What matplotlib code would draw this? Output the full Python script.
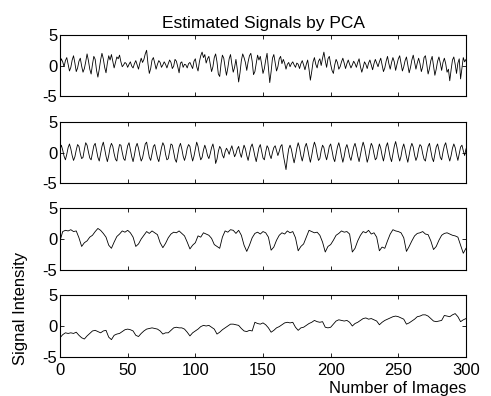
import matplotlib
matplotlib.use("Agg")
import matplotlib.pyplot as plt
import numpy as np

plt.rcParams["font.family"] = ["Liberation Sans", "DejaVu Sans"]
plt.rcParams["axes.unicode_minus"] = False

# image index for the fast signals (every image) and the slow ones (every 2nd image)
images_fast = list(range(0, 301))
images_slow = list(range(0, 301, 2))

signal_1 = [
    0.3, 1.1, 0.6, -0.2, 0.8, 1.3, 0.2, -0.9, -0.3, 0.9, 1.6, 0.4, -1.0, -0.4, 0.7, 1.2, -0.1, -1.1, -0.5, 0.6,
    1.9, 0.8, -0.6, -1.4, 0.2, 1.5, 1.0, -0.8, -1.9, -0.6, 0.9, 2.0, 1.1, -0.3, -1.2, 0.4, 1.6, 0.9, 1.8, 0.7,
    -0.4, 0.5, 1.4, 1.1, 1.7, 0.6, -0.2, 0.1, 0.5, 0.3, -0.3, 0.2, 0.6, -0.1, -0.4, 0.3, 0.8, 0.1, -0.6, 0.4,
    1.2, 0.5, 1.0, 1.9, 2.5, 0.3, -1.3, -0.5, 0.9, 1.3, 0.4, -0.6, 0.2, 0.8, 0.5, -0.3, 0.1, 0.6, 0.2, -0.4,
    0.3, 0.9, 0.5, -0.5, -0.1, 1.0, 0.7, -0.2, -1.2, 0.4, 0.6, -0.3, 0.2, 0.1, -0.4, 0.3, 0.5, 0.0, -0.5, 0.7,
    1.1, -0.2, -0.9, 0.6, 1.6, 2.2, 1.3, 1.8, 0.4, 1.1, 1.5, 0.2, -1.0, -0.2, 1.3, 1.9, 0.6, -1.4, -1.8, 0.3,
    1.7, 1.2, -0.3, -1.6, -0.4, 1.1, 1.8, 0.2, -1.1, -0.3, 1.0, -0.6, -2.7, -1.2, 0.8, 1.9, 1.3, 0.5, -0.8, 0.6,
    1.6, 2.0, 0.7, -1.5, -1.0, 0.4, 1.7, 0.9, 1.5, 0.2, -1.3, -0.5, 0.9, 2.0, -0.4, -2.8, -1.0, 1.2, 1.8, 0.5,
    -0.9, -0.2, 1.1, 1.5, 0.3, 1.0, 0.4, -0.6, 0.2, 0.5, -0.2, 0.3, 0.6, 0.1, -0.3, 0.4, 0.2, -0.5, 0.3, 0.8,
    0.1, -0.7, 0.2, 0.9, -0.6, -2.4, -1.0, 0.6, 1.3, 0.2, -0.4, 0.7, 1.1, 0.0, 1.2, 2.2, 0.8, -0.3, 1.1, 1.5,
    0.2, -0.8, -1.3, 0.1, 1.0, 0.5, -0.6, -0.2, 0.6, 1.2, 0.4, -0.5, 0.3, 0.9, 0.2, -0.4, 0.1, 0.7, 0.3, -0.3,
    0.5, 1.1, -0.2, -1.1, -0.3, 0.6, 0.2, -0.5, 0.4, 0.9, 0.1, -0.7, 0.3, 1.0, 0.4, -0.2, 0.6, 1.2, 0.1, -1.0,
    -0.4, 0.7, 1.5, 0.3, -0.6, 0.5, 1.3, 0.6, -0.8, 0.2, 1.1, 1.6, 0.4, -0.9, -0.2, 0.8, 1.4, 0.1, -1.2, -0.3,
    0.9, 1.7, 0.5, -0.6, 0.4, 1.2, 0.3, -1.0, -0.2, 1.3, 1.6, 0.2, -1.4, -0.5, 0.8, 1.5, -0.1, -1.6, -0.6, 0.7,
    1.4, 0.4, -0.8, 0.5, 1.2, 0.3, -1.1, -0.6, -2.5, -0.7, 0.9, 1.4, 0.2, -1.3, 0.4, 1.1, -2.2, -0.5, 1.3, 0.6,
    1.0,
]

signal_2 = [
    0.5, 1.2, 0.4, -0.6, -1.2, -0.3, 0.8, 1.4, 0.6, -0.5, -1.3, -0.7, 0.4, 1.3, 1.0, -0.2, -1.0, -0.8, 0.5, 1.6,
    1.2, 0.1, -0.9, -1.2, 0.0, 1.1, 1.5, 0.3, -0.8, -1.4, -0.2, 1.0, 1.7, 0.6, -0.6, -1.5, -0.5, 0.8, 1.5, 1.0,
    -0.2, -1.1, -1.4, 0.2, 1.3, 1.2, 0.0, -1.0, -1.3, -0.1, 1.1, 1.6, 0.5, -0.7, -1.5, -0.4, 0.9, 1.5, 0.7, -0.5,
    -1.4, -0.9, 0.3, 1.4, 1.7, 0.4, -0.8, -1.3, -0.2, 1.0, 1.3, 0.2, -0.9, -1.5, -0.4, 0.8, 1.6, 1.1, -0.3, -1.2,
    -1.0, 0.2, 1.4, 1.2, 0.0, -1.1, -1.6, -0.3, 0.9, 1.5, 0.6, -0.6, -1.3, -0.5, 0.7, 1.3, 1.0, -0.4, -1.4, -0.6,
    0.6, 1.7, 1.0, -0.3, -1.2, -0.8, 0.4, 1.2, 0.5, -0.5, -1.0, -0.2, 0.8, 1.4, 0.3, -1.8, -1.1, 0.2, 1.0, 0.6,
    -0.4, -0.9, 0.1, 0.7, 0.3, -0.3, 0.5, 1.1, 0.2, -0.7, -0.2, 0.6, 1.0, -0.1, -0.8, 0.3, 1.2, 0.6, -0.5, -1.3,
    -0.2, 0.9, 1.4, 0.5, -0.6, -1.5, -0.3, 0.8, 1.3, 0.2, -0.9, -1.2, 0.1, 1.1, 0.7, -0.4, -1.0, 0.0, 0.8, 1.1,
    0.3, -0.5, 0.2, 1.0, 1.3, -0.4, -1.6, -2.8, -0.9, 0.6, 1.2, 0.5, -0.7, -1.7, -0.6, 0.7, 1.6, 0.8, -0.5, -1.4,
    -0.4, 0.9, 1.5, 0.6, -0.6, -1.6, -0.5, 0.8, 1.7, 1.0, -0.3, -1.3, -1.0, 0.3, 1.2, 0.8, -0.4, -1.2, -0.2, 1.0,
    1.4, 0.3, -0.9, -1.5, -0.3, 0.9, 1.6, 0.7, -0.6, -1.6, -0.6, 0.7, 1.3, 0.5, -0.7, -1.3, -0.2, 0.9, 1.5, 0.6,
    -0.6, -1.5, -0.4, 0.8, 1.7, 0.9, -0.4, -1.6, -0.8, 0.5, 1.5, 1.0, -0.2, -1.2, -0.9, 0.4, 1.4, 0.7, -0.5, -1.4,
    -0.3, 1.0, 1.6, 0.4, -0.8, -1.5, -0.2, 1.0, 1.8, 0.8, -0.5, -1.4, -0.6, 0.7, 1.4, 0.5, -0.7, -1.6, -0.4, 0.8,
    1.5, 0.9, -0.4, -1.3, -0.7, 0.6, 1.3, 1.0, -0.2, -1.1, -1.4, -0.1, 1.0, 1.5, 0.3, -0.9, -1.5, -0.3, 0.9, 1.4,
    0.4, -0.8, -1.2, 0.1, 1.1, 1.6, 0.5, -0.6, -1.4, -0.5, 0.7, 1.4, 0.8, -0.4, -1.3, -0.2, 0.9, 1.2, 0.3, -0.5,
    0.6,
]

signal_3 = [
    -0.3, 1.2, 1.4, 1.3, 1.5, 1.2, 1.3, 0.2, -1.2,
    -0.6, -0.3, 0.3, 0.6, 1.2, 1.7, 1.4, 0.9, 0.3, -1.0, -1.5,
    -0.5, 0.4, 0.8, 1.3, 1.1, 1.4, 1.0, 0.3, -1.2, -0.8,
    0.0, 0.6, 1.2, 0.9, 1.3, 1.0, 0.7, -0.6, -1.4, -0.7,
    0.2, 0.8, 1.1, 1.0, 1.3, 0.9, 0.5, -0.5, -1.6, -1.0,
    -0.6, 0.5, 0.3, 1.0, 0.8, 0.6, 0.1, -0.9, -1.2, -1.5,
    0.3, 1.3, 1.1, 1.5, 1.4, 0.9, 1.4, 0.6, -1.0, -2.0,
    -1.0, 0.2, 0.9, 1.1, 0.8, 1.2, 1.0, 0.3, -1.8, -1.3,
    -0.2, 0.6, 1.0, 0.8, 1.3, 1.0, 1.2, 0.2, -1.9, -1.2,
    -0.8, 0.3, 1.4, 1.2, 1.0, 1.1, 0.6, -0.5, -2.1, -1.2,
    -0.9, -0.2, 0.6, 0.9, 1.3, 1.1, 1.2, 0.8, -2.1, -1.5,
    -0.3, 0.6, 1.2, 1.0, 1.4, 0.8, 1.0, 0.3, -1.9, -1.3,
    -1.5, -0.3, 0.8, 1.5, 1.3, 1.2, 1.0, 0.2, -2.0, -1.2,
    -0.3, 0.5, 0.9, 1.0, 1.2, 0.8, 0.7, -0.3, -1.7, -1.2,
    -0.2, 0.6, 0.9, 1.0, 0.8, 0.6, 0.5, 0.3, -1.0, -2.3,
    -1.5,
]

signal_4 = [
    -1.9, -1.4, -1.1, -1.2, -1.1, -1.2, -1.0, -1.5, -1.9, -2.1,
    -1.6, -1.2, -0.8, -0.7, -0.9, -1.1, -0.8, -0.7, -1.8, -2.2,
    -1.5, -1.3, -1.2, -0.9, -0.6, -0.5, -0.6, -0.8, -1.5, -1.7,
    -1.2, -0.8, -0.5, -0.4, -0.3, -0.4, -0.5, -0.8, -1.3, -1.1,
    -1.1, -0.7, -0.3, -0.2, -0.3, -0.3, -0.5, -1.0, -1.6, -1.1,
    -0.8, -0.5, -0.1, 0.1, 0.0, 0.1, -0.2, -0.5, -1.3, -1.0,
    -0.6, -0.3, 0.0, 0.3, 0.3, 0.2, 0.1, -0.4, -0.8, -0.9,
    -0.7, -0.8, 0.6, 0.4, 0.3, 0.5, 0.2, -0.3, -1.0, -0.7,
    -0.3, -0.1, 0.2, 0.5, 0.6, 0.5, 0.6, -0.2, -0.7, -0.3,
    -0.2, 0.1, 0.4, 0.6, 0.9, 0.7, 0.6, 0.7, -0.2, -0.3,
    -0.2, 0.3, 0.8, 1.0, 0.9, 0.8, 0.9, 0.6, 0.0, 0.4,
    0.6, 0.9, 1.2, 1.3, 1.1, 1.2, 1.0, 0.8, 0.2, 0.6,
    0.9, 1.1, 1.3, 1.5, 1.6, 1.5, 1.3, 1.1, 0.3, 0.5,
    0.8, 1.1, 1.5, 1.6, 1.8, 1.8, 1.6, 1.2, 0.8, 0.7,
    0.8, 0.9, 1.7, 1.6, 1.5, 1.8, 2.0, 1.5, 0.7, 1.0,
    1.2,
]

x_ticks = [0, 50, 100, 150, 200, 250, 300]
y_ticks = [-5, 0, 5]

W, H = 491, 396
# panel top / bottom in pixels
panel_rows = [(35, 96), (122, 183), (208, 270), (295, 357)]
LEFT, RIGHT = 60, 466
FS = 12

fig = plt.figure(figsize=(W / 100, H / 100), dpi=100)

series = [(images_fast, signal_1), (images_fast, signal_2),
          (images_slow, signal_3), (images_slow, signal_4)]

axes = []
for (top, bot), (xs, ys) in zip(panel_rows, series):
    ax = fig.add_axes([LEFT / W, 1 - bot / H, (RIGHT - LEFT) / W, (bot - top) / H])
    ax.plot(xs, ys, color="black", linewidth=0.6)
    ax.set_xlim(0, 300)
    ax.set_ylim(-5, 5)
    ax.set_xticks(x_ticks)
    ax.set_yticks(y_ticks)
    ax.tick_params(direction="in", length=3, width=0.6, top=True, right=True,
                   labelsize=FS, pad=2)
    ax.tick_params(axis="x", pad=4)
    for s in ax.spines.values():
        s.set_linewidth(0.8)
    axes.append(ax)

for ax in axes[:-1]:
    ax.tick_params(labelbottom=False)

axes[0].set_title("Estimated Signals by PCA", fontsize=12.5, pad=5)
fig.text(21 / W, 1 - 308 / H, "Signal Intensity", rotation=90, fontsize=FS,
         ha="center", va="center")
fig.text(RIGHT / W, 1 - 389 / H, "Number of Images", fontsize=FS,
         ha="right", va="center")

fig.savefig("out.png", dpi=100)
